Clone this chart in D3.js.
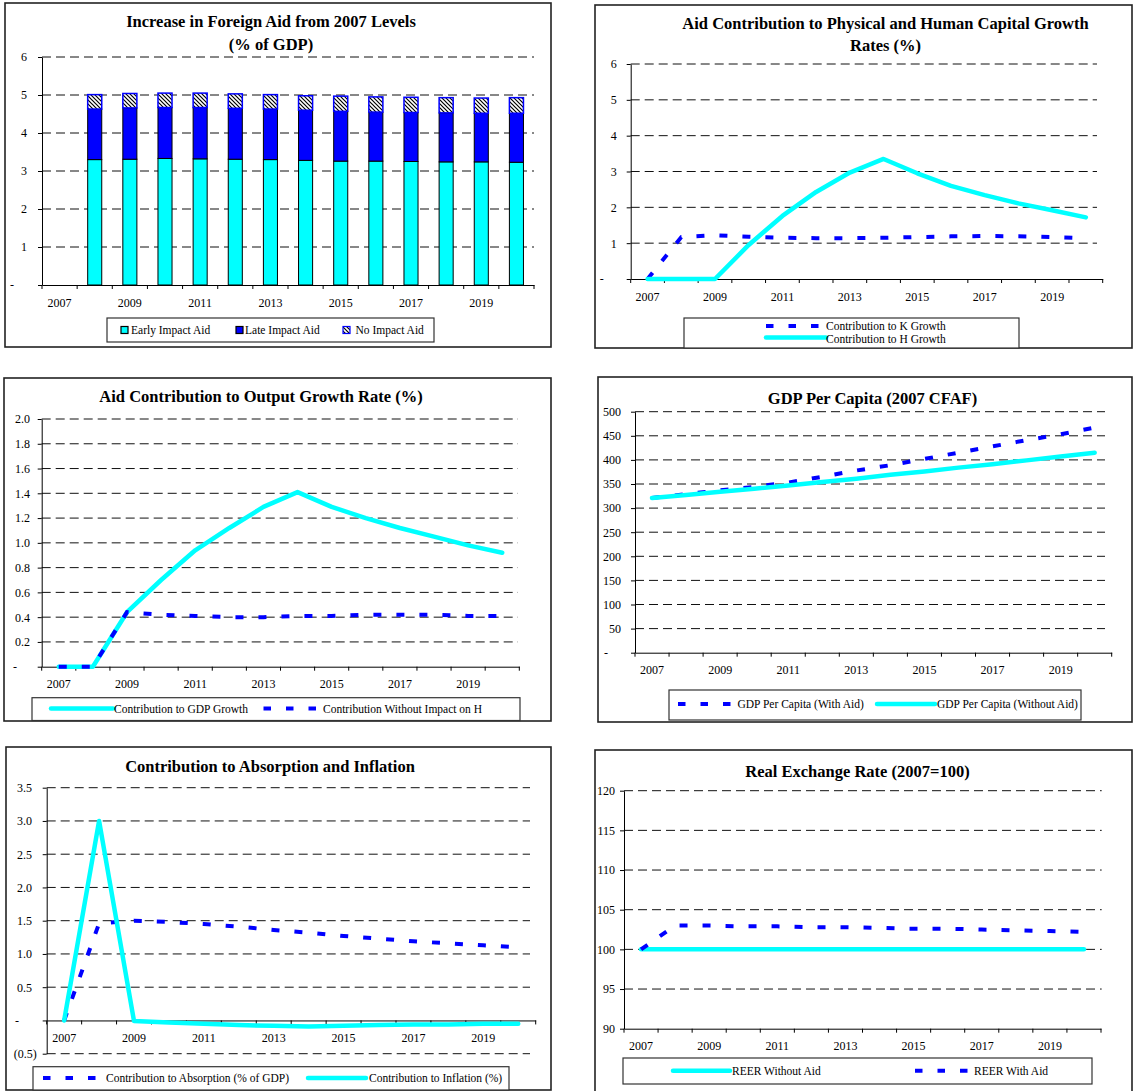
<!DOCTYPE html>
<html>
<head>
<meta charset="utf-8">
<script src="https://cdn.jsdelivr.net/npm/d3@7"></script>
<style>
  html, body { margin: 0; padding: 0; background: #fff; }
  svg { display: block; }
  text { font-family: "Liberation Serif", "Times New Roman", serif; fill: #000; }
</style>
</head>
<body>
<svg id="chart" width="1133" height="1091"></svg>
<script>
// ---- data ----
const years = [2007, 2008, 2009, 2010, 2011, 2012, 2013, 2014, 2015, 2016, 2017, 2018, 2019, 2020];
const yearTickLabels = [2007, 2009, 2011, 2013, 2015, 2017, 2019];

// Increase in foreign aid (% of GDP), stacked
const earlyImpactAid = [null, 3.30, 3.31, 3.33, 3.32, 3.31, 3.30, 3.28, 3.26, 3.26, 3.25, 3.24, 3.24, 3.23];
const lateImpactAid  = [null, 1.33, 1.35, 1.34, 1.35, 1.34, 1.33, 1.32, 1.31, 1.29, 1.29, 1.29, 1.28, 1.29];
const noImpactAid    = [null, 0.38, 0.38, 0.38, 0.38, 0.38, 0.38, 0.38, 0.40, 0.40, 0.40, 0.40, 0.40, 0.41];
const aidTicks = [0, 1, 2, 3, 4, 5, 6];

// Physical (K) and human (H) capital growth contributions (%)
const kGrowth = [0, 1.17, 1.22, 1.18, 1.15, 1.14, 1.14, 1.15, 1.17, 1.19, 1.20, 1.19, 1.17, 1.14];
const hGrowth = [0, 0, 0, 0.95, 1.76, 2.43, 2.97, 3.35, 2.95, 2.60, 2.34, 2.11, 1.92, 1.72];
const capitalTicks = [0, 1, 2, 3, 4, 5, 6];

// Output growth contributions (%)
const gdpGrowthContribution = [0, 0, 0.44, 0.70, 0.94, 1.12, 1.29, 1.41, 1.29, 1.20, 1.12, 1.05, 0.98, 0.92];
const contributionWithoutH  = [0, 0, 0.44, 0.42, 0.41, 0.40, 0.40, 0.41, 0.41, 0.42, 0.42, 0.42, 0.41, 0.41];
const outputTicks = [0, 0.2, 0.4, 0.6, 0.8, 1.0, 1.2, 1.4, 1.6, 1.8, 2.0];

// GDP per capita (2007 CFAF)
const gdpPcWithAid    = [321, 329, 337, 344, 353, 365, 378, 389, 402, 415, 428, 441, 453, 467];
const gdpPcWithoutAid = [321, 327, 334, 340, 347, 354, 361, 369, 376, 384, 391, 399, 407, 415];
const gdpPcTicks = [0, 50, 100, 150, 200, 250, 300, 350, 400, 450, 500];

// Absorption and inflation contributions
const absorption = [0, 1.46, 1.50, 1.48, 1.45, 1.41, 1.36, 1.32, 1.27, 1.23, 1.19, 1.16, 1.13, 1.10];
const inflation  = [0, 3.00, -0.01, -0.03, -0.05, -0.07, -0.08, -0.09, -0.08, -0.07, -0.06, -0.06, -0.05, -0.05];
const absorptionTicks = [-0.5, 0, 0.5, 1.0, 1.5, 2.0, 2.5, 3.0, 3.5];

// Real exchange rate (2007 = 100)
const reerWithoutAid = [100, 100, 100, 100, 100, 100, 100, 100, 100, 100, 100, 100, 100, 100];
const reerWithAid    = [100, 103.0, 103.0, 102.9, 102.9, 102.8, 102.8, 102.7, 102.6, 102.6, 102.5, 102.4, 102.3, 102.2];
const reerTicks = [90, 95, 100, 105, 110, 115, 120];

// ---- drawing ----
const CYAN = "#00ffff";
const BLUE = "#0000ff";
const svg = d3.select("#chart");

const defs = svg.append("defs");
const hatch = defs.append("pattern").attr("id", "hatch")
  .attr("patternUnits", "userSpaceOnUse").attr("width", 4).attr("height", 4);
hatch.append("rect").attr("width", 4).attr("height", 4).attr("fill", "#fff");
hatch.append("path").attr("d", "M-1,-1L5,5M-1,3L1,5M3,-1L5,1")
  .attr("stroke", "#000").attr("stroke-width", 1.2);

function setupPanel(c) {
  const g = svg.append("g");
  g.append("rect")
    .attr("x", c.frame[0]).attr("y", c.frame[1])
    .attr("width", c.frame[2] - c.frame[0]).attr("height", c.frame[3] - c.frame[1])
    .attr("fill", "#fff").attr("stroke", "#222").attr("stroke-width", 1.6);
  c.title.forEach((t, i) => {
    g.append("text").attr("x", c.titleX).attr("y", c.titleY[i])
      .attr("text-anchor", "middle").attr("font-weight", "bold").attr("font-size", 16.5).text(t);
  });
  const x = d3.scaleBand().domain(years).range([c.left, c.right]);
  const y = d3.scaleLinear().domain(c.yDomain).range([c.bottom, c.top]);

  // dashed horizontal gridlines
  g.append("g").selectAll("line")
    .data(c.yTicks.filter(v => v !== c.axisAt))
    .join("line")
    .attr("x1", c.left).attr("x2", c.gridRight)
    .attr("y1", d => y(d)).attr("y2", d => y(d))
    .attr("stroke", "#111").attr("stroke-width", 1).attr("stroke-dasharray", "9,5");
  return { g, x, y };
}

function drawAxes(p, c) {
  const { g, x, y } = p;
  const yAxis = d3.axisLeft(y).tickValues(c.yTicks).tickSize(4).tickSizeOuter(0)
    .tickPadding(c.yPad).tickFormat(c.yFmt);
  const ya = g.append("g").attr("transform", `translate(${c.left},0)`).call(yAxis);
  ya.attr("font-size", 12);
  ya.selectAll("path, line").attr("stroke", "#000");
  ya.selectAll("text").attr("dx", d => (d === 0 && c.dashZero) ? -13 : (d < 0 ? 4.7 : 0));

  const axisY = y(c.axisAt);
  const xAxis = d3.axisBottom(x).tickValues(yearTickLabels).tickSize(0).tickSizeOuter(0).tickPadding(13);
  const xa = g.append("g").attr("transform", `translate(0,${axisY})`).call(xAxis);
  xa.attr("font-size", 12);
  xa.select(".domain").attr("stroke", "#000");

  // tick marks on category boundaries
  g.append("g").selectAll("line")
    .data(years.map(v => x(v)).concat([x.range()[1]]))
    .join("line")
    .attr("x1", d => d).attr("x2", d => d)
    .attr("y1", axisY).attr("y2", axisY + 4)
    .attr("stroke", "#000");
}

function drawLine(p, values, color, dashed) {
  const { g, x, y } = p;
  const line = d3.line()
    .x((d, i) => x(years[i]) + x.bandwidth() / 2)
    .y(d => y(d));
  g.append("path").datum(values)
    .attr("d", line)
    .attr("fill", "none")
    .attr("stroke", color)
    .attr("stroke-width", dashed ? 4 : 4.5)
    .attr("stroke-linejoin", dashed ? "miter" : "round")
    .attr("stroke-linecap", dashed ? "butt" : "round")
    .attr("stroke-dasharray", dashed ? "8,15" : null);
}

function drawLegend(g, box, items) {
  g.append("rect")
    .attr("x", box[0]).attr("y", box[1])
    .attr("width", box[2] - box[0]).attr("height", box[3] - box[1])
    .attr("fill", "#fff").attr("stroke", "#333").attr("stroke-width", 1.2);
  items.forEach(it => {
    if (it.type === "line" || it.type === "dash") {
      g.append("line")
        .attr("x1", it.x1).attr("x2", it.x2).attr("y1", it.y).attr("y2", it.y)
        .attr("stroke", it.color).attr("stroke-width", it.type === "dash" ? 4 : 4.5)
        .attr("stroke-linecap", it.type === "dash" ? "butt" : "round")
        .attr("stroke-dasharray", it.type === "dash" ? "7.5,15" : null);
    } else {
      g.append("rect")
        .attr("x", it.x1).attr("y", it.y - 3.5).attr("width", 7).attr("height", 7)
        .attr("fill", it.fill).attr("stroke", it.stroke).attr("stroke-width", 1.2);
    }
    g.append("text").attr("x", it.tx).attr("y", it.ty !== undefined ? it.ty : it.y)
      .attr("dy", "0.35em").attr("font-size", 11.5).text(it.label);
  });
}

const dashInt = d => d === 0 ? "-" : d3.format("d")(d);
const dashDec = d => d === 0 ? "-" : (d < 0 ? `(${(-d).toFixed(1)})` : d.toFixed(1));

// Panel: Increase in Foreign Aid
{
  const c = {
    frame: [5, 3, 551, 347], title: ["Increase in Foreign Aid from 2007 Levels", "(% of GDP)"],
    titleX: 271, titleY: [27.3, 50],
    left: 42, right: 534, top: 57, bottom: 285, gridRight: 534,
    yDomain: [0, 6], yTicks: aidTicks, axisAt: 0, yPad: 11, yFmt: dashInt, dashZero: true
  };
  const p = setupPanel(c);
  const stackData = years.map((yr, i) => ({
    year: yr, early: earlyImpactAid[i], late: lateImpactAid[i], none: noImpactAid[i]
  })).filter(d => d.early !== null);
  const stack = d3.stack().keys(["early", "late", "none"])(stackData);
  const styles = {
    early: { fill: CYAN, stroke: "#000", sw: 1 },
    late: { fill: BLUE, stroke: "#000", sw: 1 },
    none: { fill: "url(#hatch)", stroke: BLUE, sw: 1.5 }
  };
  const barW = p.x.bandwidth() * 0.4;
  stack.forEach(layer => {
    const st = styles[layer.key];
    p.g.append("g").selectAll("rect").data(layer).join("rect")
      .attr("x", d => p.x(d.data.year) + (p.x.bandwidth() - barW) / 2)
      .attr("width", barW)
      .attr("y", d => p.y(d[1]))
      .attr("height", d => p.y(d[0]) - p.y(d[1]))
      .attr("fill", st.fill).attr("stroke", st.stroke).attr("stroke-width", st.sw);
  });
  drawAxes(p, c);
  drawLegend(p.g, [107, 318, 434, 342], [
    { type: "swatch", x1: 121, y: 330, fill: CYAN, stroke: "#000", tx: 131, label: "Early Impact Aid" },
    { type: "swatch", x1: 236, y: 330, fill: BLUE, stroke: "#000", tx: 245, label: "Late Impact Aid" },
    { type: "swatch", x1: 343, y: 330, fill: "url(#hatch)", stroke: BLUE, tx: 355.5, label: "No Impact Aid" }
  ]);
}

// Panel: Physical and Human Capital growth
{
  const c = {
    frame: [595, 5, 1132, 348], title: ["Aid Contribution to Physical and Human Capital Growth", "Rates (%)"],
    titleX: 885.5, titleY: [29.3, 51],
    left: 630.7, right: 1102.7, top: 64, bottom: 279, gridRight: 1097,
    yDomain: [0, 6], yTicks: capitalTicks, axisAt: 0, yPad: 10, yFmt: dashInt, dashZero: true
  };
  const p = setupPanel(c);
  drawAxes(p, c);
  drawLine(p, kGrowth, BLUE, true);
  drawLine(p, hGrowth, CYAN, false);
  drawLegend(p.g, [684, 318, 1019, 348], [
    { type: "dash", x1: 766, x2: 821, y: 326, color: BLUE, tx: 826, label: "Contribution to K Growth" },
    { type: "line", x1: 766, x2: 826, y: 337.5, color: CYAN, tx: 826, ty: 338.5, label: "Contribution to H Growth" }
  ]);
}

// Panel: Output growth
{
  const c = {
    frame: [4, 378, 551, 721], title: ["Aid Contribution to Output Growth Rate (%)"],
    titleX: 261, titleY: [401.7],
    left: 41.7, right: 519.3, top: 419, bottom: 666.7, gridRight: 518,
    yDomain: [0, 2], yTicks: outputTicks, axisAt: 0, yPad: 7.7, yFmt: dashDec, dashZero: true
  };
  const p = setupPanel(c);
  drawAxes(p, c);
  drawLine(p, gdpGrowthContribution, CYAN, false);
  drawLine(p, contributionWithoutH, BLUE, true);
  drawLegend(p.g, [32, 697.7, 520, 720.5], [
    { type: "line", x1: 51, x2: 113, y: 708.5, color: CYAN, tx: 114, label: "Contribution to GDP Growth" },
    { type: "dash", x1: 263.5, x2: 318, y: 708.5, color: BLUE, tx: 323, label: "Contribution Without Impact on H" }
  ]);
}

// Panel: GDP per capita
{
  const c = {
    frame: [598, 377, 1132, 722], title: ["GDP Per Capita (2007 CFAF)"],
    titleX: 872.5, titleY: [404.3],
    left: 635, right: 1111.7, top: 411.7, bottom: 652.7, gridRight: 1105,
    yDomain: [0, 500], yTicks: gdpPcTicks, axisAt: 0, yPad: 10, yFmt: dashInt, dashZero: true
  };
  const p = setupPanel(c);
  drawAxes(p, c);
  drawLine(p, gdpPcWithAid, BLUE, true);
  drawLine(p, gdpPcWithoutAid, CYAN, false);
  drawLegend(p.g, [669, 690, 1081, 720], [
    { type: "dash", x1: 678, x2: 733, y: 704, color: BLUE, tx: 737.5, label: "GDP Per Capita (With Aid)" },
    { type: "line", x1: 877, x2: 935, y: 704, color: CYAN, tx: 937, label: "GDP Per Capita (Without Aid)" }
  ]);
}

// Panel: Absorption and inflation
{
  const c = {
    frame: [6, 747, 551, 1090], title: ["Contribution to Absorption and Inflation"],
    titleX: 270, titleY: [771.7],
    left: 46.7, right: 535.7, top: 787.7, bottom: 1053.7, gridRight: 530,
    yDomain: [-0.5, 3.5], yTicks: absorptionTicks, axisAt: 0, yPad: 10.7, yFmt: dashDec, dashZero: true
  };
  const p = setupPanel(c);
  drawAxes(p, c);
  drawLine(p, absorption, BLUE, true);
  drawLine(p, inflation, CYAN, false);
  drawLegend(p.g, [33, 1066.7, 509, 1090], [
    { type: "dash", x1: 43, x2: 97, y: 1078, color: BLUE, tx: 106, label: "Contribution to Absorption (% of GDP)" },
    { type: "line", x1: 308, x2: 366, y: 1078, color: CYAN, tx: 369, label: "Contribution to Inflation (%)" }
  ]);
}

// Panel: Real exchange rate
{
  const c = {
    frame: [595, 750, 1132, 1092], title: ["Real Exchange Rate (2007=100)"],
    titleX: 857.5, titleY: [777.3],
    left: 624, right: 1101, top: 790.7, bottom: 1028.7, gridRight: 1101.7,
    yDomain: [90, 120], yTicks: reerTicks, axisAt: 90, yPad: 5, yFmt: d => d, dashZero: false
  };
  const p = setupPanel(c);
  drawAxes(p, c);
  drawLine(p, reerWithoutAid, CYAN, false);
  drawLine(p, reerWithAid, BLUE, true);
  drawLegend(p.g, [623, 1058, 1092, 1084], [
    { type: "line", x1: 673, x2: 730, y: 1070.7, color: CYAN, tx: 732, label: "REER Without Aid" },
    { type: "dash", x1: 915, x2: 968, y: 1070.7, color: BLUE, tx: 974, label: "REER With Aid" }
  ]);
}
</script>
</body>
</html>
